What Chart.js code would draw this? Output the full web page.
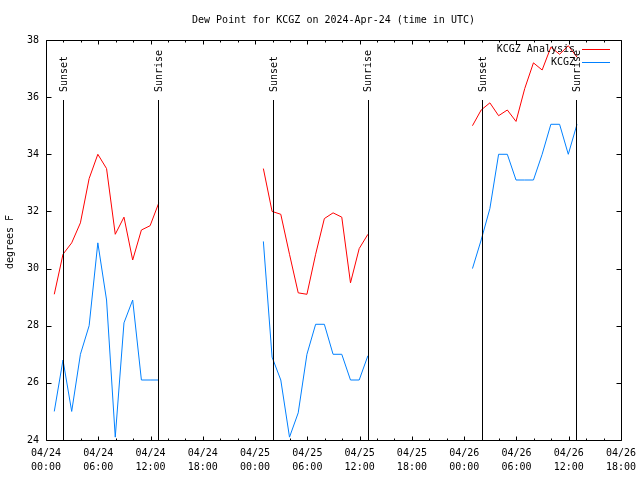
<!DOCTYPE html>
<html>
<head>
<meta charset="utf-8">
<script src="https://cdn.jsdelivr.net/npm/chart.js@4"></script>
<style>
  html, body { margin:0; padding:0; background:#fff; }
  #c { display:block; }
</style>
</head>
<body>
<canvas id="c" width="640" height="480"></canvas>
<script>
/* ===== DATA ===== */
// hours since 04/24 00:00 UTC
const HOURS = [
  0.95, 1.95, 2.95, 3.95, 4.95, 5.95, 6.95, 7.95, 8.95, 9.95, 10.95, 11.95, 12.95,
  24.95, 25.95, 26.95, 27.95, 28.95, 29.95, 30.95, 31.95, 32.95, 33.95, 34.95, 35.95, 36.95,
  48.95, 49.95, 50.95, 51.95, 52.95, 53.95, 54.95, 55.95, 56.95, 57.95, 58.95, 59.95, 60.95
];
const ANALYSIS = [
  29.1, 30.5, 30.9, 31.6, 33.15, 34.0, 33.5, 31.2, 31.8, 30.3, 31.35, 31.5, 32.3,
  33.5, 32.0, 31.9, 30.5, 29.15, 29.1, 30.5, 31.75, 31.95, 31.8, 29.5, 30.7, 31.2,
  35.0, 35.55, 35.8, 35.35, 35.55, 35.15, 36.3, 37.2, 36.95, 37.75, 37.5, 37.8, 37.4
];
const OBSERVED = [
  25.0, 26.8, 25.0, 27.0, 28.0, 30.9, 28.9, 24.1, 28.1, 28.9, 26.1, 26.1, 26.1,
  30.95, 26.9, 26.1, 24.1, 24.95, 27.0, 28.05, 28.05, 27.0, 27.0, 26.1, 26.1, 26.95,
  30.0, 31.0, 32.1, 34.0, 34.0, 33.1, 33.1, 33.1, 34.0, 35.05, 35.05, 34.0, 35.05
];
const SUNSET  = [1.99, 26.09, 50.08];
const SUNRISE = [12.89, 36.93, 60.88];
const X_MIN = 0, X_MAX = 66, X_STEP = 6, X_MINOR = 2;
const Y_MIN = 24, Y_MAX = 38, Y_STEP = 2;
const SERIES = ['KCGZ Analysis', 'KCGZ'];
const COLORS = ['#ff0000', '#0080ff'];
const TITLE = 'Dew Point for KCGZ on 2024-Apr-24 (time in UTC)';
const Y_TITLE = 'degrees F';

const FONT = "'DejaVu Sans Mono', 'Liberation Mono', monospace";

// break lines where observations are missing
function toPoints(vals) {
  const pts = [];
  HOURS.forEach((h, i) => {
    if (i > 0 && h - HOURS[i-1] > 2) pts.push({ x: (h + HOURS[i-1]) / 2, y: null });
    pts.push({ x: h, y: vals[i] });
  });
  return pts;
}

function xLabel(v) {
  const day = 24 + Math.floor(v / 24);
  const hr = v % 24;
  return ['04/' + day, String(hr).padStart(2, '0') + ':00'];
}

/* ===== FRAME, TICKS, SUN LINES, LEGEND ===== */
const gnuplotDecor = {
  id: 'gnuplotDecor',
  afterDraw(chart) {
    const { ctx, chartArea: a, scales: { x, y } } = chart;
    const L = Math.round(a.left) + 0.5, R = Math.round(a.right) + 0.5;
    const T = Math.round(a.top) + 0.5, B = Math.round(a.bottom) + 0.5;
    ctx.save();
    ctx.strokeStyle = '#000'; ctx.lineWidth = 1;
    ctx.beginPath();
    ctx.rect(L, T, R - L, B - T);
    // x ticks (inward, mirrored)
    for (let v = X_MIN; v <= X_MAX; v += X_MINOR) {
      const px = Math.round(x.getPixelForValue(v)) + 0.5;
      const len = v % X_STEP === 0 ? 4 : 2;
      ctx.moveTo(px, B); ctx.lineTo(px, B - len);
      ctx.moveTo(px, T); ctx.lineTo(px, T + len);
    }
    // y ticks
    for (let v = Y_MIN; v <= Y_MAX; v += Y_STEP) {
      const py = Math.round(y.getPixelForValue(v)) + 0.5;
      ctx.moveTo(L, py); ctx.lineTo(L + 5, py);
      ctx.moveTo(R, py); ctx.lineTo(R - 5, py);
    }
    // sunset / sunrise markers
    const lineTop = a.bottom - 0.85 * (a.bottom - a.top);
    const labTop = a.bottom - 0.87 * (a.bottom - a.top);
    const marks = SUNSET.map(h => [h, 'Sunset']).concat(SUNRISE.map(h => [h, 'Sunrise']));
    marks.forEach(([h]) => {
      const px = Math.round(x.getPixelForValue(h)) + 0.5;
      ctx.moveTo(px, B); ctx.lineTo(px, lineTop);
    });
    ctx.stroke();

    ctx.fillStyle = '#000';
    ctx.font = '10px ' + FONT;
    marks.forEach(([h, txt]) => {
      const px = x.getPixelForValue(h);
      ctx.save();
      ctx.translate(px + 1, labTop);
      ctx.rotate(-Math.PI / 2);
      ctx.textAlign = 'left'; ctx.textBaseline = 'middle';
      ctx.fillText(txt, 0, 0);
      ctx.restore();
    });

    // title
    ctx.textAlign = 'center'; ctx.textBaseline = 'middle';
    ctx.fillText(TITLE, (a.left + a.right) / 2, 20);
    // y axis title
    ctx.save();
    ctx.translate(10, (a.top + a.bottom) / 2 + 2);
    ctx.rotate(-Math.PI / 2);
    ctx.fillText(Y_TITLE, 0, 0);
    ctx.restore();

    // legend (top right, inside)
    SERIES.forEach((name, i) => {
      const ly = 49 + i * 13;
      ctx.textAlign = 'right'; ctx.textBaseline = 'middle';
      ctx.fillStyle = '#000';
      ctx.fillText(name, a.right - 46, ly);
      ctx.strokeStyle = COLORS[i];
      ctx.beginPath();
      ctx.moveTo(a.right - 39, Math.round(ly) + 0.5);
      ctx.lineTo(a.right - 11, Math.round(ly) + 0.5);
      ctx.stroke();
    });
    ctx.restore();
  }
};

new Chart(document.getElementById('c'), {
  type: 'line',
  data: {
    datasets: [
      { label: SERIES[0], data: toPoints(ANALYSIS), borderColor: COLORS[0],
        borderWidth: 1, pointRadius: 0, tension: 0, spanGaps: false, fill: false },
      { label: SERIES[1], data: toPoints(OBSERVED), borderColor: COLORS[1],
        borderWidth: 1, pointRadius: 0, tension: 0, spanGaps: false, fill: false },
    ]
  },
  options: {
    responsive: false, animation: false,
    layout: { padding: { top: 40, right: 19, bottom: 0, left: 0 } },
    plugins: { legend: { display: false }, tooltip: { enabled: false }, title: { display: false } },
    scales: {
      x: {
        type: 'linear', min: X_MIN, max: X_MAX,
        grid: { display: false, drawTicks: false }, border: { display: false },
        ticks: { stepSize: X_STEP, autoSkip: false, maxRotation: 0, padding: 6,
          color: '#000', font: { family: FONT, size: 10, lineHeight: 1.4 },
          callback: v => xLabel(v) },
        afterFit: s => { s.height = 40; s.paddingLeft = 0; s.paddingRight = 0; }
      },
      y: {
        min: Y_MIN, max: Y_MAX,
        grid: { display: false, drawTicks: false }, border: { display: false },
        ticks: { stepSize: Y_STEP, padding: 7, color: '#000',
          font: { family: FONT, size: 10 } },
        afterFit: s => { s.width = 46; s.paddingTop = 0; s.paddingBottom = 0; }
      }
    }
  },
  plugins: [gnuplotDecor]
});
</script>
</body>
</html>
